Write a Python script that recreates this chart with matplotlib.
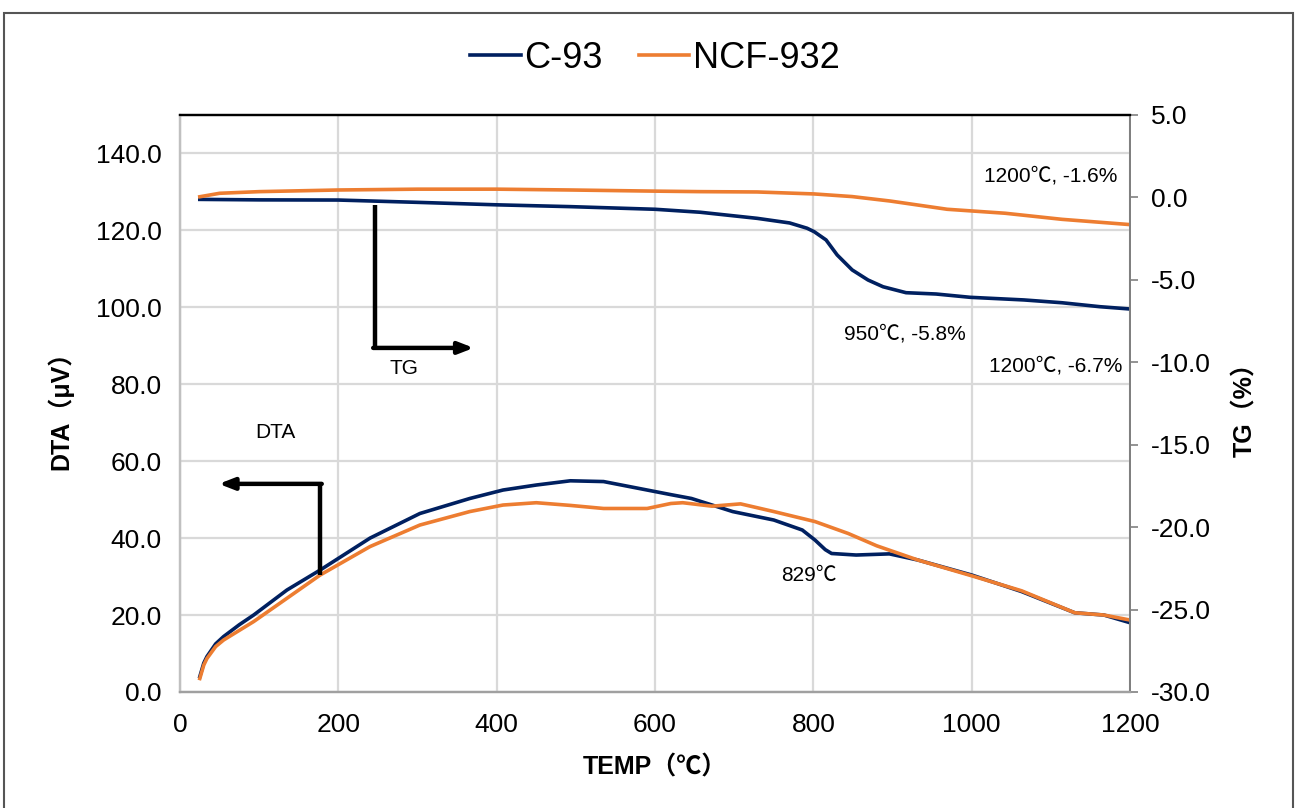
import matplotlib
matplotlib.use("Agg")
import matplotlib.pyplot as plt
from matplotlib.patches import Rectangle

FONT = ['Liberation Sans', 'Noto Sans CJK SC', 'DejaVu Sans']
plt.rcParams['font.family'] = FONT

# DTA curves (temperature in C, signal in uV)
c93_dta_t = [25, 30, 34, 45, 55, 75, 93, 135, 177, 240, 303, 366, 408, 450, 493, 535,
             590, 620, 646, 698, 750, 786, 802, 815, 823, 854, 896, 932, 1000, 1063,
             1130, 1167, 1200]
c93_dta = [4.0, 7.5, 9.2, 12.5, 14.4, 17.5, 20.0, 26.5, 31.7, 40.0, 46.4, 50.3, 52.5, 53.8,
           54.9, 54.7, 52.5, 51.3, 50.3, 46.9, 44.7, 42.1, 39.5, 37.0, 36.0, 35.6, 35.9,
           34.3, 30.4, 26.1, 20.6, 20.0, 18.0]

ncf_dta_t = [25, 30, 34, 45, 55, 93, 177, 240, 303, 366, 408, 450, 493, 535, 590, 620,
             635, 672, 708, 750, 802, 844, 880, 932, 1000, 1063, 1130, 1167, 1200]
ncf_dta = [3.5, 7.0, 8.7, 11.8, 13.5, 18.3, 30.4, 37.8, 43.4, 46.9, 48.6, 49.2, 48.5, 47.7,
           47.7, 49.0, 49.2, 48.3, 48.9, 46.9, 44.3, 41.2, 38.0, 34.3, 30.2, 26.3, 20.6,
           20.0, 18.7]

# TG curves (temperature in C, mass change in %)
c93_tg_t = [25, 100, 200, 300, 400, 493, 600, 657, 729, 770, 792, 801, 816, 830, 849, 869,
            888, 917, 955, 998, 1066, 1114, 1162, 1200]
c93_tg = [-0.12, -0.15, -0.16, -0.30, -0.45, -0.56, -0.72, -0.90, -1.27, -1.55, -1.87, -2.08,
          -2.58, -3.49, -4.40, -5.01, -5.42, -5.78, -5.86, -6.06, -6.22, -6.39, -6.63, -6.77]

ncf_tg_t = [25, 50, 100, 200, 300, 400, 493, 600, 657, 729, 801, 849, 897, 969, 1042, 1114,
            1200]
ncf_tg = [0.04, 0.25, 0.35, 0.45, 0.50, 0.50, 0.45, 0.38, 0.35, 0.33, 0.21, 0.05, -0.22,
          -0.72, -0.96, -1.33, -1.65]

x_ticks = [0, 200, 400, 600, 800, 1000, 1200]
dta_ticks = [0, 20, 40, 60, 80, 100, 120, 140]
tg_ticks = [-30, -25, -20, -15, -10, -5, 0, 5]

NAVY = '#002060'
ORANGE = '#ED7D31'
GRID = '#d9d9d9'

fig = plt.figure(figsize=(12.97, 8.08), dpi=100)
fig.patches.append(Rectangle((0.003, -0.02), 0.994, 1.004, transform=fig.transFigure,
                             fill=False, edgecolor='#555555', lw=1.5))

ax = fig.add_axes([0.1388, 0.1436, 0.7325, 0.7141])
ax2 = ax.twinx()

ax.set_xlim(0, 1200)
ax.set_ylim(0, 150)
ax2.set_ylim(-30, 5)

ax.set_xticks(x_ticks)
ax.set_xticklabels([str(t) for t in x_ticks])
ax.set_yticks(dta_ticks)
ax.set_yticklabels([f'{v:.1f}' for v in dta_ticks])
ax2.set_yticks(tg_ticks)
ax2.set_yticklabels([f'{v:.1f}' for v in tg_ticks])

ax.grid(True, color=GRID, lw=1.6)
ax.set_axisbelow(True)
ax.tick_params(axis='x', length=0, pad=15, labelsize=19)
ax.tick_params(axis='y', length=0, pad=13, labelsize=19)
ax2.tick_params(axis='y', length=6, width=1.2, color='#808080', pad=9, labelsize=19)

for a in (ax, ax2):
    a.spines['left'].set_color('#c0c0c0')
    a.spines['left'].set_linewidth(1.6)
    a.spines['bottom'].set_color('#a0a0a0')
    a.spines['bottom'].set_linewidth(1.6)
    a.spines['right'].set_color('#808080')
    a.spines['right'].set_linewidth(1.4)
    a.spines['top'].set_color('black')
    a.spines['top'].set_linewidth(1.6)

# curves
ax.plot(c93_dta_t, c93_dta, color=NAVY, lw=2.6, label='C-93')
ax.plot(ncf_dta_t, ncf_dta, color=ORANGE, lw=2.6, label='NCF-932')
ax2.plot(c93_tg_t, c93_tg, color=NAVY, lw=2.6)
ax2.plot(ncf_tg_t, ncf_tg, color=ORANGE, lw=2.6)

# L-shaped pointers telling which axis each pair belongs to
ax2.plot([246, 246], [-0.46, -9.13], color='black', lw=3.2, solid_capstyle='butt')
ax2.annotate('', xy=(371, -9.13), xytext=(244, -9.13),
             arrowprops=dict(arrowstyle='-|>,head_length=0.9,head_width=0.35',
                             color='black', lw=3.2, shrinkA=0, shrinkB=0))
ax.plot([177, 177], [30.4, 54.1], color='black', lw=3.2, solid_capstyle='butt')
ax.annotate('', xy=(49, 54.1), xytext=(179, 54.1),
            arrowprops=dict(arrowstyle='-|>,head_length=0.9,head_width=0.35',
                            color='black', lw=3.2, shrinkA=0, shrinkB=0))

ax2.text(283, -10.4, 'TG', fontsize=15, ha='center', va='center')
ax.text(121, 67.5, 'DTA', fontsize=15, ha='center', va='center')
ax2.text(1184, 1.3, '1200℃, -1.6%', fontsize=15, ha='right', va='center')
ax2.text(915, -8.3, '950℃, -5.8%', fontsize=15, ha='center', va='center')
ax2.text(1190, -10.2, '1200℃, -6.7%', fontsize=15, ha='right', va='center')
ax.text(794, 30.2, '829℃', fontsize=15, ha='center', va='center')

fig.text(0.046, 0.5, 'DTA（μV）', rotation=90, fontsize=18, fontweight='bold',
         ha='center', va='center')
fig.text(0.96, 0.5, 'TG（%）', rotation=90, fontsize=18, fontweight='bold',
         ha='center', va='center')
fig.text(0.505, 0.05, 'TEMP（℃）', fontsize=18, fontweight='bold', ha='center', va='center')

fig.legend(loc='center', bbox_to_anchor=(0.505, 0.928), ncol=2, frameon=False,
           fontsize=26, handlelength=1.4, handletextpad=0.1, columnspacing=1.0)

fig.savefig('out.png', dpi=100)
